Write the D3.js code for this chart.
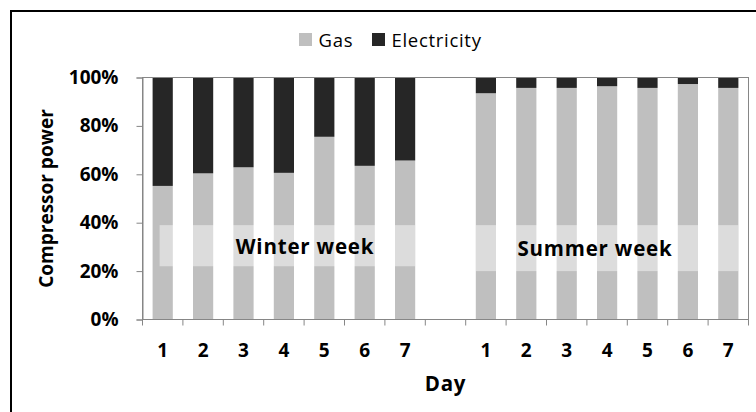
<!DOCTYPE html>
<html>
<head>
<meta charset="utf-8">
<script src="https://cdn.jsdelivr.net/npm/d3@7"></script>
<style>
  html, body { margin: 0; padding: 0; background: #fff; }
  svg { display: block; font-family: "Open Sans", "DejaVu Sans", sans-serif; }
</style>
</head>
<body>
<svg id="chart" width="756" height="412"></svg>
<script>
// Share of compressor power by fuel, per day, for one winter and one summer week
const dayLabels = ["1", "2", "3", "4", "5", "6", "7"];
const winterGas = [55.2, 60.4, 62.9, 60.6, 75.5, 63.5, 65.7];
const winterElectricity = [44.8, 39.6, 37.1, 39.4, 24.5, 36.5, 34.3];
const summerGas = [93.5, 95.7, 95.7, 96.4, 95.7, 97.3, 95.7];
const summerElectricity = [6.5, 4.3, 4.3, 3.6, 4.3, 2.7, 4.3];
const seriesNames = ["Gas", "Electricity"];
const seriesColors = ["#bfbfbf", "#262626"];
const yTicks = [0, 20, 40, 60, 80, 100];
const weekLabels = ["Winter week", "Summer week"];

// Category slots: 7 winter days, one empty slot, 7 summer days
const rows = [];
dayLabels.forEach((d, i) => rows.push({ key: "W" + d, day: d, Gas: winterGas[i], Electricity: winterElectricity[i] }));
rows.push({ key: "gap", day: "", Gas: 0, Electricity: 0 });
dayLabels.forEach((d, i) => rows.push({ key: "S" + d, day: d, Gas: summerGas[i], Electricity: summerElectricity[i] }));

const svg = d3.select("#chart");
const plot = { left: 142.5, right: 748.5, top: 77.5, bottom: 319.5 };

const x = d3.scaleBand()
  .domain(rows.map(r => r.key))
  .range([plot.left, plot.right])
  .paddingInner(0.5)
  .paddingOuter(0.25);

const y = d3.scaleLinear().domain([0, 100]).range([plot.bottom, plot.top]);

const color = d3.scaleOrdinal().domain(seriesNames).range(seriesColors);

// outer chart frame (runs past the right and bottom edges)
svg.append("rect")
  .attr("x", 11).attr("y", 11)
  .attr("width", 800).attr("height", 460)
  .attr("fill", "none").attr("stroke", "#000").attr("stroke-width", 2);

// stacked bars
const stacked = d3.stack().keys(seriesNames)(rows.filter(r => r.key !== "gap"));
svg.append("g").selectAll("g")
  .data(stacked)
  .join("g")
  .attr("fill", d => color(d.key))
  .selectAll("rect")
  .data(d => d)
  .join("rect")
  .attr("x", d => x(d.data.key))
  .attr("width", x.bandwidth())
  .attr("y", d => y(d[1]))
  .attr("height", d => y(d[0]) - y(d[1]));

// translucent week label boxes (lighten the bars behind the text)
const winterBox = { x0: x("W1") + 7, x1: x("W7") + x.bandwidth(), top: 39, bottom: 22 };
const summerBox = { x0: x("S1"), x1: x("S7") + x.bandwidth(), top: 39, bottom: 20 };
[winterBox, summerBox].forEach(b => {
  svg.append("rect")
    .attr("x", b.x0).attr("y", y(b.top))
    .attr("width", b.x1 - b.x0).attr("height", y(b.bottom) - y(b.top))
    .attr("fill", "#ffffff").attr("fill-opacity", 0.45);
});
const weekText = (label, cx, v) => svg.append("text")
  .attr("x", cx).attr("y", y(v))
  .attr("text-anchor", "middle").attr("dominant-baseline", "central")
  .attr("font-size", 20.5).attr("font-weight", "bold").attr("letter-spacing", 0.8)
  .attr("fill", "#000")
  .text(label);
weekText(weekLabels[0], 305, 30.5);
weekText(weekLabels[1], 595, 29.5);

// plot area frame
svg.append("rect")
  .attr("x", plot.left).attr("y", plot.top)
  .attr("width", plot.right - plot.left).attr("height", plot.bottom - plot.top)
  .attr("fill", "none").attr("stroke", "#868686").attr("stroke-width", 1);

// y axis
const yAxis = d3.axisLeft(y)
  .tickValues(yTicks)
  .tickFormat(d => d + "%")
  .tickSize(6)
  .tickPadding(18);
const gy = svg.append("g").attr("transform", `translate(${plot.left},0)`).call(yAxis);
gy.select(".domain").attr("stroke", "#868686");
gy.selectAll(".tick line").attr("stroke", "#868686");
gy.selectAll(".tick text")
  .attr("font-size", 19).attr("font-weight", "bold").attr("fill", "#000")
  .attr("font-family", "'Open Sans', sans-serif");

// x axis: ticks at slot boundaries, labels at slot centres
const step = x.step();
const boundaries = d3.range(rows.length + 1).map(i => plot.left + i * step);
const gx = svg.append("g");
gx.append("line")
  .attr("x1", plot.left).attr("x2", plot.right)
  .attr("y1", plot.bottom).attr("y2", plot.bottom)
  .attr("stroke", "#868686");
gx.selectAll("line.tk")
  .data(boundaries)
  .join("line")
  .attr("class", "tk")
  .attr("x1", d => d).attr("x2", d => d)
  .attr("y1", plot.bottom).attr("y2", plot.bottom + 6)
  .attr("stroke", "#868686");
gx.selectAll("text")
  .data(rows)
  .join("text")
  .attr("x", d => x(d.key) + x.bandwidth() / 2)
  .attr("y", 349.5)
  .attr("text-anchor", "middle").attr("dominant-baseline", "central")
  .attr("font-size", 19).attr("font-weight", "bold").attr("fill", "#000")
  .text(d => d.day);

// axis titles
svg.append("text")
  .attr("x", (plot.left + plot.right) / 2).attr("y", 383)
  .attr("text-anchor", "middle").attr("dominant-baseline", "central")
  .attr("font-size", 20.5).attr("font-weight", "bold").attr("letter-spacing", 0.8)
  .attr("fill", "#000")
  .text("Day");
svg.append("text")
  .attr("transform", `translate(46,${(plot.top + plot.bottom) / 2}) rotate(-90)`)
  .attr("text-anchor", "middle").attr("dominant-baseline", "central")
  .attr("font-size", 19).attr("font-weight", "bold").attr("fill", "#000")
  .text("Compressor power");

// legend
const legend = svg.append("g");
const legendItems = [{ name: seriesNames[0], sx: 299 }, { name: seriesNames[1], sx: 372 }];
legendItems.forEach(it => {
  legend.append("rect")
    .attr("x", it.sx).attr("y", 33).attr("width", 13).attr("height", 13)
    .attr("fill", color(it.name));
  legend.append("text")
    .attr("x", it.sx + 19.5).attr("y", 39.5)
    .attr("dominant-baseline", "central")
    .attr("font-size", 18.5).attr("letter-spacing", 0.7).attr("fill", "#000")
    .text(it.name);
});
</script>
</body>
</html>
